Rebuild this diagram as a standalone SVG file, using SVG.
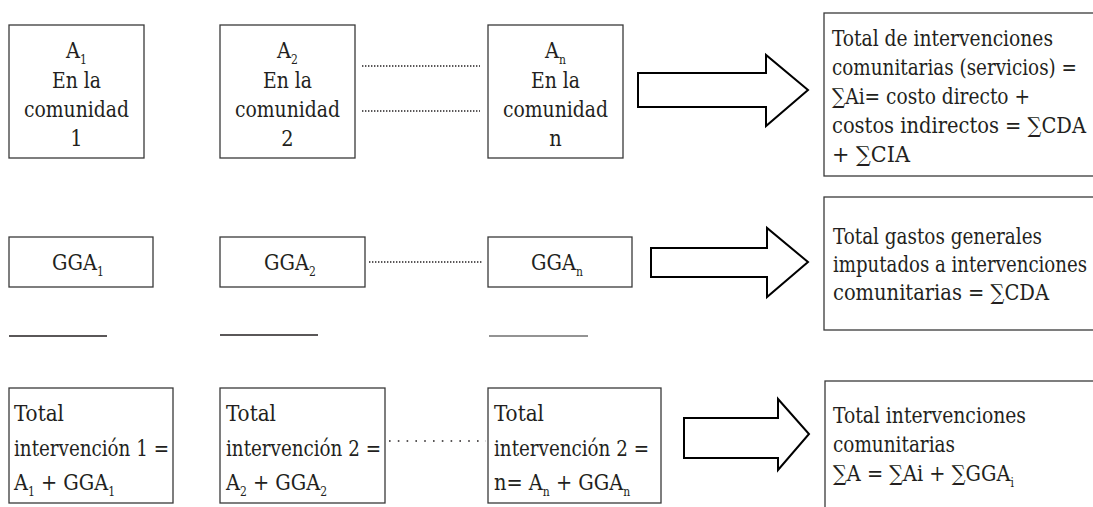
<svg xmlns="http://www.w3.org/2000/svg" width="1093" height="507" viewBox="0 0 1093 507">
<defs>
<style>
.box{fill:#fff;stroke:#3a3a3a;stroke-width:1.3}
.t{font-family:'DejaVu Serif',serif;font-stretch:semi-condensed;font-size:21.5px;fill:#231f20}
.c{text-anchor:middle}
.sub{font-size:12px}
.arrow{fill:#fff;stroke:#000;stroke-width:2;stroke-linejoin:miter}
.dot{stroke:#231f20;stroke-width:1.6;stroke-dasharray:1.4 1.6;fill:none}
.dot2{stroke:#231f20;stroke-width:1.6;stroke-dasharray:1.6 7.2;fill:none}
.ul{stroke:#231f20;stroke-width:1.5}
</style>
</defs>
<rect width="1093" height="507" fill="#fff"/>

<g id="connectors">
<line class="dot" x1="362" y1="66" x2="480" y2="66"/>
<line class="dot" x1="362" y1="111" x2="480" y2="111"/>
<line class="dot" x1="369" y1="262" x2="483" y2="262"/>
<line class="dot2" x1="389" y1="441" x2="486" y2="441"/>
<polygon class="arrow" points="638,73 766,73 766,55 808,90 766,126 766,107 638,107"/>
<polygon class="arrow" points="651,248 767,248 767,228 808,262 767,297 767,277 651,277"/>
<polygon class="arrow" points="684,418 778,418 778,399 809,434 778,470 778,458 684,458"/>
</g>

<g id="nodeA1">
<rect class="box" x="9" y="25" width="135" height="133"/>
<text class="t c" x="76.5" y="58">A<tspan class="sub" dy="6">1</tspan></text>
<text class="t c" x="76.5" y="88" textLength="49" lengthAdjust="spacingAndGlyphs">En la</text>
<text class="t c" x="76.5" y="117" textLength="105" lengthAdjust="spacingAndGlyphs">comunidad</text>
<text class="t c" x="76.5" y="146">1</text>
</g>
<g id="nodeA2">
<rect class="box" x="220" y="25" width="135" height="133"/>
<text class="t c" x="287.5" y="58">A<tspan class="sub" dy="6">2</tspan></text>
<text class="t c" x="287.5" y="88" textLength="49" lengthAdjust="spacingAndGlyphs">En la</text>
<text class="t c" x="287.5" y="117" textLength="105" lengthAdjust="spacingAndGlyphs">comunidad</text>
<text class="t c" x="287.5" y="146">2</text>
</g>
<g id="nodeAn">
<rect class="box" x="488" y="25" width="135" height="133"/>
<text class="t c" x="555.5" y="58">A<tspan class="sub" dy="6">n</tspan></text>
<text class="t c" x="555.5" y="88" textLength="49" lengthAdjust="spacingAndGlyphs">En la</text>
<text class="t c" x="555.5" y="117" textLength="105" lengthAdjust="spacingAndGlyphs">comunidad</text>
<text class="t c" x="555.5" y="146">n</text>
</g>
<g id="nodeTotalA">
<rect class="box" x="824" y="13" width="280" height="163"/>
<text class="t" x="832" y="46" textLength="221" lengthAdjust="spacingAndGlyphs">Total de intervenciones</text>
<text class="t" x="832" y="75" textLength="245" lengthAdjust="spacingAndGlyphs">comunitarias (servicios) =</text>
<text class="t" x="832" y="104" textLength="198" lengthAdjust="spacingAndGlyphs">∑Ai= costo directo +</text>
<text class="t" x="832" y="133" textLength="254" lengthAdjust="spacingAndGlyphs">costos indirectos = ∑CDA</text>
<text class="t" x="832" y="162" textLength="78" lengthAdjust="spacingAndGlyphs">+ ∑CIA</text>
</g>

<g id="nodeGGA1">
<rect class="box" x="9" y="237" width="144" height="50"/>
<text class="t c" x="78" y="270">GGA<tspan class="sub" dy="6">1</tspan></text>
</g>
<g id="nodeGGA2">
<rect class="box" x="220" y="237" width="145" height="50"/>
<text class="t c" x="290" y="270">GGA<tspan class="sub" dy="6">2</tspan></text>
</g>
<g id="nodeGGAn">
<rect class="box" x="488" y="237" width="144" height="50"/>
<text class="t c" x="557" y="270">GGA<tspan class="sub" dy="6">n</tspan></text>
</g>
<g id="nodeTotalGGA">
<rect class="box" x="824" y="197" width="280" height="133"/>
<text class="t" x="833" y="244" textLength="209" lengthAdjust="spacingAndGlyphs">Total gastos generales</text>
<text class="t" x="833" y="272" textLength="254" lengthAdjust="spacingAndGlyphs">imputados a intervenciones</text>
<text class="t" x="833" y="300" textLength="216" lengthAdjust="spacingAndGlyphs">comunitarias = ∑CDA</text>
</g>

<g id="underlines">
<line class="ul" x1="9" y1="336" x2="107" y2="336"/>
<line class="ul" x1="220" y1="335" x2="318" y2="335"/>
<line class="ul" x1="489" y1="336" x2="588" y2="336" style="stroke:#6f6f6f"/>
</g>

<g id="nodeT1">
<rect class="box" x="9" y="388" width="164" height="115"/>
<text class="t" x="14" y="421" textLength="50" lengthAdjust="spacingAndGlyphs">Total</text>
<text class="t" x="14" y="456" textLength="155" lengthAdjust="spacingAndGlyphs">intervención 1 =</text>
<text class="t" x="14" y="490">A<tspan class="sub" dy="6">1</tspan><tspan dy="-6"> + GGA</tspan><tspan class="sub" dy="6">1</tspan></text>
</g>
<g id="nodeT2">
<rect class="box" x="220" y="388" width="165" height="115"/>
<text class="t" x="226" y="421" textLength="50" lengthAdjust="spacingAndGlyphs">Total</text>
<text class="t" x="226" y="456" textLength="155" lengthAdjust="spacingAndGlyphs">intervención 2 =</text>
<text class="t" x="226" y="490">A<tspan class="sub" dy="6">2</tspan><tspan dy="-6"> + GGA</tspan><tspan class="sub" dy="6">2</tspan></text>
</g>
<g id="nodeTn">
<rect class="box" x="488" y="388" width="173" height="115"/>
<text class="t" x="494" y="421" textLength="50" lengthAdjust="spacingAndGlyphs">Total</text>
<text class="t" x="494" y="456" textLength="155" lengthAdjust="spacingAndGlyphs">intervención 2 =</text>
<text class="t" x="494" y="490">n= A<tspan class="sub" dy="6">n</tspan><tspan dy="-6"> + GGA</tspan><tspan class="sub" dy="6">n</tspan></text>
</g>
<g id="nodeTotal">
<rect class="box" x="825" y="381" width="280" height="140"/>
<text class="t" x="833" y="423" textLength="193" lengthAdjust="spacingAndGlyphs">Total intervenciones</text>
<text class="t" x="833" y="452" textLength="122" lengthAdjust="spacingAndGlyphs">comunitarias</text>
<text class="t" x="833" y="481">∑A = ∑Ai + ∑GGA<tspan class="sub" dy="6">i</tspan></text>
</g>
</svg>
